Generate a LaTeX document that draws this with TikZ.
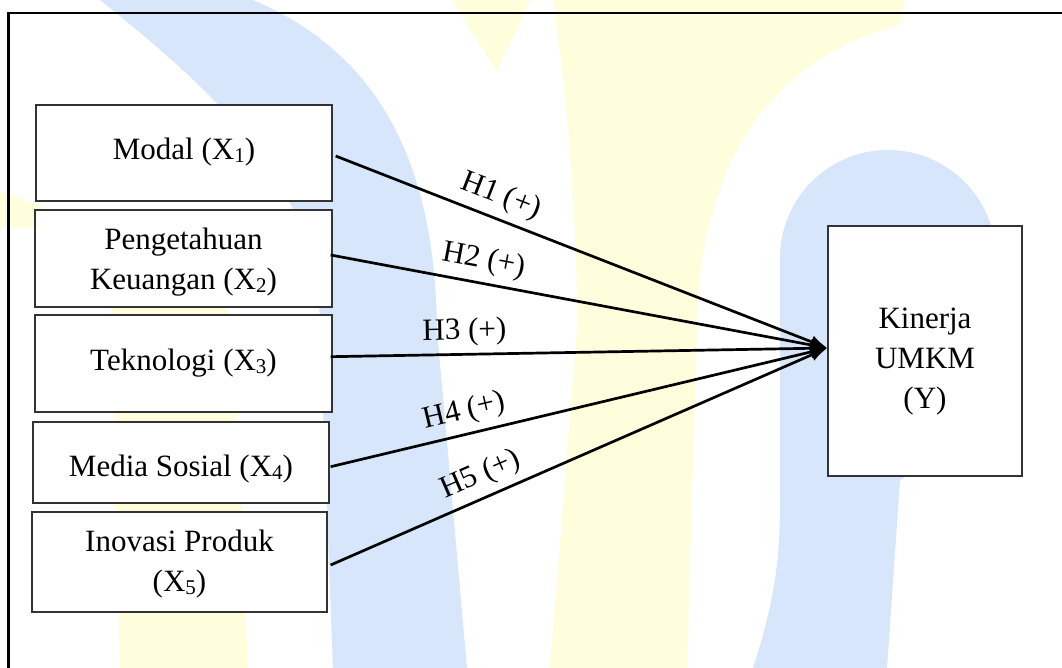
\documentclass[tikz,border=0pt]{standalone}
\usepackage{fontspec}
\setmainfont{Liberation Serif}
\usetikzlibrary{arrows.meta,calc}
\definecolor{wmblue}{HTML}{D7E6FB}
\definecolor{wmyellow}{HTML}{FFFEDC}
\definecolor{boxline}{HTML}{333333}
\newcommand{\sbs}[1]{\raisebox{-3pt}{\fontsize{21}{21}\selectfont #1}}
\begin{document}
\begin{tikzpicture}[x=1pt,y=-1pt,
  box/.style={draw=boxline, line width=1.3pt, fill=white, inner sep=0pt},
  lbl/.style={font=\fontsize{31}{40}\selectfont, align=center, inner sep=0pt},
  link/.style={line width=2.7pt, -{Latex[length=17pt,width=13pt]}},
  hyp/.style={font=\fontsize{31}{40}\selectfont, sloped, above, inner sep=7pt}]
\useasboundingbox (0,0) rectangle (1062,668);
% watermark
\fill[wmyellow] (0,192) .. controls (80,212) and (112,260) .. (112,330) -- (120,668) -- (248,668) -- (233,330) .. controls (228,280) and (120,222) .. (0,228) -- cycle;
\fill[wmblue] (100,0) .. controls (225,100) and (320,190) .. (320,330) -- (333,668) -- (467,668) -- (437,330) .. controls (435,150) and (370,50) .. (253,0) -- cycle;
\fill[wmyellow] (452,0) -- (530,0) -- (497,72) -- cycle;
\fill[wmyellow] (550,668) -- (577,330) .. controls (577,200) and (565,80) .. (553,0) -- (905,0) -- (900,25) .. controls (760,60) and (697,180) .. (697,330) -- (687,668) -- cycle;
\fill[wmblue] (753,668) .. controls (775,600) and (780,560) .. (780,500) -- (780,258) arc[start angle=180,end angle=360,radius=108] -- (997,420) -- (900,480) -- (887,668) -- cycle;
% frame
\draw[line width=2.2pt] (8.5,680) -- (8.5,12.7) -- (1075,12.7);
% boxes
\node[box, minimum width=296pt, minimum height=96pt] (b1) at (184,153) {};
\node[box, minimum width=297pt, minimum height=97pt] (b2) at (183.5,258.5) {};
\node[box, minimum width=297pt, minimum height=97pt] (b3) at (183.5,363.5) {};
\node[box, minimum width=296pt, minimum height=81pt] (b4) at (181,462.5) {};
\node[box, minimum width=295pt, minimum height=100pt] (b5) at (179.5,562) {};
\node[box, minimum width=194pt, minimum height=250pt] (by) at (925,351) {};
% texts
\node[lbl] (t1) at (184,152) {Modal (X\sbs{1})};
\node[lbl] (t2) at (183.5,262) {Pengetahuan\\Keuangan (X\sbs{2})};
\node[lbl] (t3) at (183.5,362.7) {Teknologi (X\sbs{3})};
\node[lbl] (t4) at (181,469) {Media Sosial (X\sbs{4})};
\node[lbl] (t5) at (179.5,564.3) {Inovasi Produk\\(X\sbs{5})};
\node[lbl] (ty) at (925,362) {Kinerja\\UMKM\\(Y)};
% connectors
\draw[link] ([xshift=3pt,yshift=-3pt]b1.east) -- node[hyp,pos=0.32]{H1 (+)} ([yshift=3pt]by.west);
\draw[link] ([xshift=-2pt,yshift=3.5pt]b2.east) -- node[hyp,pos=0.30]{H2 (+)} ([yshift=3pt]by.west);
\draw[link] ([xshift=-2pt,yshift=6.8pt]b3.east) -- node[hyp,pos=0.27]{H3 (+)} ([yshift=3pt]by.west);
\draw[link] ([xshift=1pt,yshift=-4.2pt]b4.east) -- node[hyp,pos=0.28]{H4 (+)} ([yshift=3pt]by.west);
\draw[link] ([xshift=3pt,yshift=-3pt]b5.east) -- node[hyp,pos=0.32]{H5 (+)} ([yshift=3pt]by.west);
\end{tikzpicture}
\end{document}
